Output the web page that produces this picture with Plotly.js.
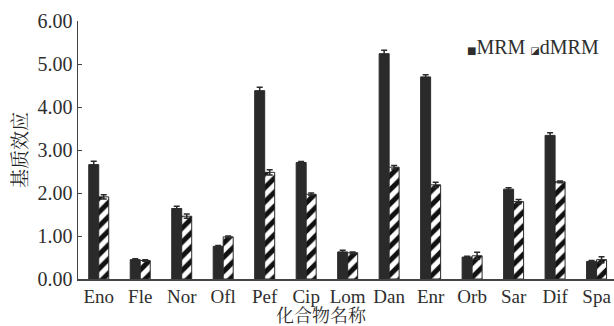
<!DOCTYPE html>
<html>
<head>
<meta charset="utf-8">
<script src="https://cdn.plot.ly/plotly-3.0.1.min.js"></script>
<style>
  html, body { margin: 0; padding: 0; background: #fff; }
  #chart { width: 614px; height: 326px; }
</style>
</head>
<body>
<div id="chart"></div>
<script>
// Compounds on the x axis
const compounds = ['Eno', 'Fle', 'Nor', 'Ofl', 'Pef', 'Cip', 'Lom', 'Dan', 'Enr', 'Orb', 'Sar', 'Dif', 'Spa'];

// Matrix effect, MRM mode
const mrmValues = [2.66, 0.45, 1.64, 0.76, 4.38, 2.71, 0.63, 5.24, 4.70, 0.51, 2.09, 3.34, 0.41];
const mrmErrors = [0.08, 0.02, 0.05, 0.02, 0.08, 0.02, 0.04, 0.08, 0.05, 0.02, 0.03, 0.06, 0.02];

// Matrix effect, dMRM mode
const dmrmValues = [1.91, 0.43, 1.46, 0.98, 2.48, 1.97, 0.61, 2.60, 2.19, 0.54, 1.80, 2.26, 0.45];
const dmrmErrors = [0.05, 0.02, 0.05, 0.02, 0.06, 0.03, 0.02, 0.04, 0.06, 0.08, 0.05, 0.02, 0.07];

// Y axis tick labels
const yTickVals = [0, 1, 2, 3, 4, 5, 6];
const yTickText = ['0.00', '1.00', '2.00', '3.00', '4.00', '5.00', '6.00'];

const serif = 'Liberation Serif, Times New Roman, serif';
const cjk = 'Noto Serif CJK SC, Noto Sans CJK SC, sans-serif';
const ink = '#2a2a2a';
const textColor = '#2e2e2e';

const traces = [
  {
    type: 'bar',
    name: 'MRM',
    x: compounds,
    y: mrmValues,
    marker: { color: ink, line: { color: ink, width: 1 } },
    error_y: { type: 'data', array: mrmErrors, visible: true, color: ink, thickness: 1.5, width: 3 }
  },
  {
    type: 'bar',
    name: 'dMRM',
    x: compounds,
    y: dmrmValues,
    marker: {
      color: '#ffffff',
      line: { color: ink, width: 1 },
      pattern: { shape: '/', fgcolor: '#111111', bgcolor: '#ffffff', size: 10, solidity: 0.5 }
    },
    error_y: { type: 'data', array: dmrmErrors, visible: true, color: ink, thickness: 1.5, width: 3 }
  }
];

const layout = {
  width: 614,
  height: 326,
  margin: { l: 78, r: 0, t: 21, b: 46.5 },
  paper_bgcolor: '#ffffff',
  plot_bgcolor: '#ffffff',
  barmode: 'group',
  bargap: 0.518,
  bargroupgap: 0,
  font: { family: serif, size: 20, color: textColor },
  showlegend: false,
  xaxis: {
    type: 'category',
    range: [-0.5, 12.42],
    showline: true,
    linecolor: '#444444',
    linewidth: 1.5,
    ticks: '',
    tickfont: { family: serif, size: 19, color: textColor },
    showgrid: false,
    zeroline: false,
    fixedrange: true
  },
  yaxis: {
    range: [0, 6],
    tickvals: yTickVals,
    ticktext: yTickText,
    showline: true,
    linecolor: '#444444',
    linewidth: 1.5,
    ticks: 'inside',
    ticklen: 4,
    tickcolor: '#444444',
    tickfont: { family: serif, size: 20, color: textColor },
    showgrid: false,
    zeroline: false,
    fixedrange: true
  },
  annotations: [
    {
      // y axis title
      text: '基质效应',
      xref: 'paper', yref: 'paper',
      x: 0, y: 0.5,
      xanchor: 'center', yanchor: 'middle',
      xshift: -60,
      textangle: -90,
      showarrow: false,
      font: { family: cjk, size: 19, color: '#222222' }
    },
    {
      // x axis title
      text: '化合物名称',
      xref: 'paper', yref: 'paper',
      x: 0.455, y: 0,
      xanchor: 'center', yanchor: 'middle',
      yshift: -35,
      showarrow: false,
      font: { family: cjk, size: 18, color: textColor }
    },
    {
      // series key
      text: '<span style="font-family:DejaVu Sans;font-size:10px">■</span>MRM ' +
            '<span style="font-family:DejaVu Sans;font-size:10px">◪</span>dMRM',
      xref: 'paper', yref: 'paper',
      x: 0.976, y: 0.9,
      xanchor: 'right', yanchor: 'middle',
      showarrow: false,
      font: { family: serif, size: 20, color: textColor }
    }
  ]
};

Plotly.newPlot('chart', traces, layout, { staticPlot: true, displayModeBar: false });
</script>
</body>
</html>
